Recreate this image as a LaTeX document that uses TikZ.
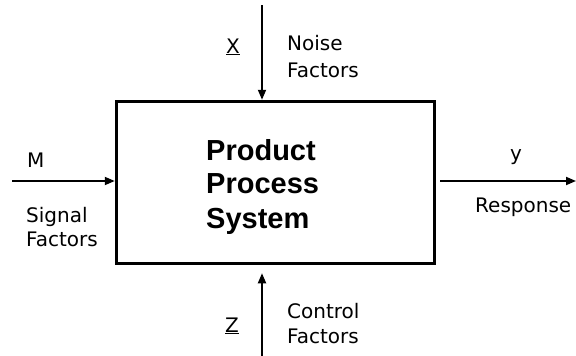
\documentclass[tikz,border=0pt]{standalone}
\usepackage{fontspec}
\setmainfont{DejaVu Sans}
\newfontfamily\boldfam{Liberation Sans}
\usetikzlibrary{arrows.meta}
\begin{document}
\begin{tikzpicture}[x=1pt,y=-1pt,
  lbl/.style={anchor=base west,inner sep=0pt,font=\fontsize{20}{26}\selectfont},
  title/.style={anchor=base west,inner sep=0pt,font=\boldfam\bfseries\fontsize{29}{34}\selectfont},
  conn/.style={line width=1.8pt,-{Triangle[length=10pt,width=8pt]}}]
\useasboundingbox (0,0) rectangle (576,356);
\node[draw,line width=3.5pt,minimum width=318pt,minimum height=162pt,inner sep=0pt] (sys) at (275.5,182.5) {};
\node[title] (t1) at (206,160) {Product};
\node[title] (t2) at (206,193) {Process};
\node[title] (t3) at (206,228) {System};
% signal
\coordinate (lstart) at (12,181);
\draw[conn] (lstart) -- (sys.west |- lstart);
\node[lbl] (m) at (27,167) {M};
\node[lbl] (sig1) at (26,222) {Signal};
\node[lbl] (sig2) at (26,246) {Factors};
% noise
\coordinate (ntop) at (262,5);
\draw[conn] (ntop) -- (sys.north -| ntop);
\node[lbl] (x) at (226,53) {\underline{X}};
\node[lbl] (n1) at (287,50) {Noise};
\node[lbl] (n2) at (287,77) {Factors};
% response
\coordinate (rend) at (576,181);
\draw[conn,shorten <=4pt] (sys.east |- rend) -- (rend);
\node[lbl] (y) at (510,160) {y};
\node[lbl] (r) at (475,212) {Response};
% control
\coordinate (cbot) at (262,356);
\draw[conn,shorten >=8pt] (cbot) -- (sys.south -| cbot);
\node[lbl] (z) at (225,332) {\underline{Z}};
\node[lbl] (c1) at (287,318) {Control};
\node[lbl] (c2) at (287,343) {Factors};
\end{tikzpicture}
\end{document}
